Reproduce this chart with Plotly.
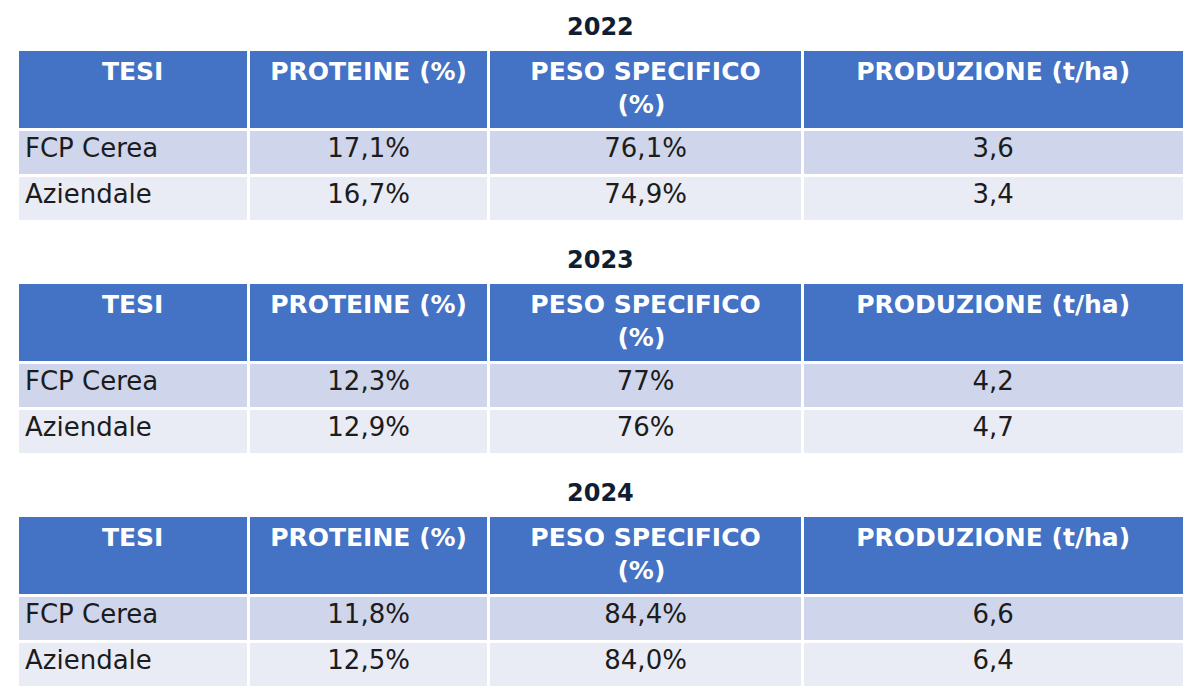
import plotly.graph_objects as go

years = ["2022", "2023", "2024"]
columns = ["TESI", "PROTEINE (%)", "PESO SPECIFICO<br>" + "&nbsp;" * 10 + "(%)", "PRODUZIONE (t/ha)"]
tesi = ["FCP Cerea", "Aziendale"]
proteine = {"2022": ["17,1%", "16,7%"], "2023": ["12,3%", "12,9%"], "2024": ["11,8%", "12,5%"]}
peso = {"2022": ["76,1%", "74,9%"], "2023": ["77%", "76%"], "2024": ["84,4%", "84,0%"]}
produzione = {"2022": ["3,6", "3,4"], "2023": ["4,2", "4,7"], "2024": ["6,6", "6,4"]}

W, H = 1200, 700
HEADER_BLUE = "#4472C4"
ROW1 = "#CFD5EA"
ROW2 = "#E9EBF5"
TEXT = "#1C1C1C"
FONT = "DejaVu Sans"

table_tops = [49, 282, 515]
title_y = [27, 260, 493]
table_h = 176
x0, x1 = 17, 1184
colw = [231, 240, 313, 381]

fig = go.Figure()
for i, yr in enumerate(years):
    top = table_tops[i]
    fig.add_trace(go.Table(
        domain=dict(x=[x0 / W, x1 / W], y=[1 - (top + table_h) / H, 1 - top / H]),
        columnwidth=colw,
        header=dict(
            values=[f"<b>{c}</b>" for c in columns],
            fill_color=HEADER_BLUE,
            line=dict(color="white", width=3),
            align="center",
            font=dict(family=FONT, size=25, color="white"),
            height=80,
        ),
        cells=dict(
            values=[tesi, proteine[yr], peso[yr], produzione[yr]],
            fill_color=[[ROW1, ROW2]] * 4,
            line=dict(color="white", width=3),
            align=["left", "center", "center", "center"],
            font=dict(family=FONT, size=26, color=TEXT),
            height=46,
        ),
    ))
    fig.add_annotation(
        x=0.5, xref="paper", y=1 - title_y[i] / H, yref="paper",
        text=f"<b>{yr}</b>", showarrow=False,
        font=dict(family=FONT, size=24, color="#0F1E32"),
        xanchor="center", yanchor="middle",
    )

fig.update_layout(
    width=W, height=H,
    margin=dict(l=0, r=0, t=0, b=0),
    paper_bgcolor="white",
    plot_bgcolor="white",
)
fig.write_html("out.html", config={"displayModeBar": False},
               post_script="document.body.style.margin='0';")
